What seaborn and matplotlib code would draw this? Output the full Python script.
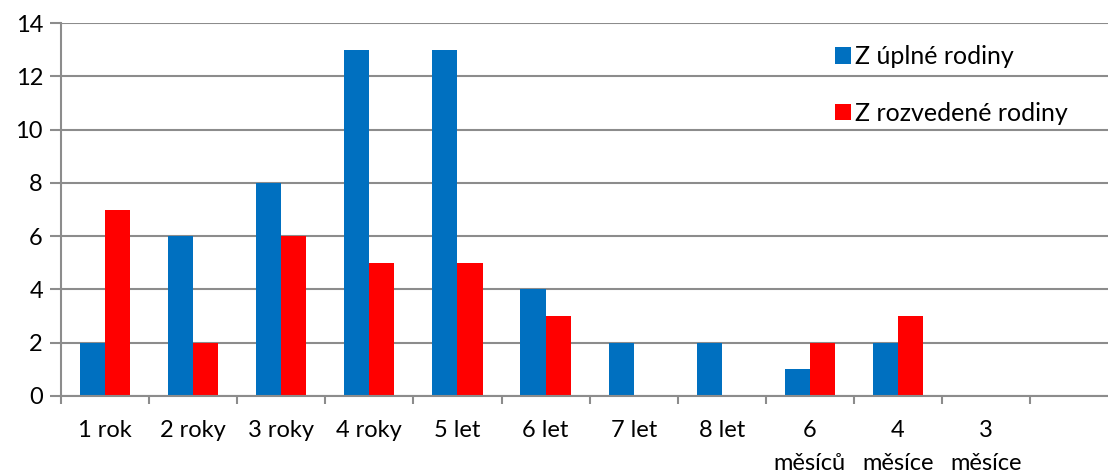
import matplotlib
matplotlib.use("Agg")
import matplotlib.pyplot as plt
import seaborn as sns
import pandas as pd
import numpy as np

# Age categories (last slot intentionally blank)
categories = ["1 rok", "2 roky", "3 roky", "4 roky", "5 let", "6 let", "7 let",
              "8 let", "6\nměsíců", "4\nměsíce", "3\nměsíce", " "]
uplne = [2, 6, 8, 13, 13, 4, 2, 2, 1, 2, 0, 0]
rozvedene = [7, 2, 6, 5, 5, 3, 0, 0, 2, 3, 0, 0]
series_names = ["Z úplné rodiny", "Z rozvedené rodiny"]
colors = ["#0070C0", "#FF0000"]

df = pd.DataFrame({
    "kategorie": categories * 2,
    "pocet": uplne + rozvedene,
    "rodina": [series_names[0]] * len(categories) + [series_names[1]] * len(categories),
})

sns.set_theme(style="white")
plt.rcParams["font.family"] = ["Lato", "DejaVu Sans"]

fig = plt.figure(figsize=(11.08, 4.74), dpi=100)
ax = fig.add_axes([61 / 1108, 1 - 396 / 474, 1 - 61 / 1108, (396 - 23) / 474])

sns.barplot(data=df, x="kategorie", y="pocet", hue="rodina", order=categories,
            hue_order=series_names, palette=colors, width=0.57, linewidth=0,
            saturation=1, ax=ax, legend=True)

# tick marks at category boundaries
ax.set_xticks(np.arange(-0.5, len(categories), 1), minor=True)
ax.tick_params(axis="x", which="minor", length=6, width=1.5, color="#8c8c8c",
               bottom=True)

ax.set_ylim(0, 14)
ax.set_xlim(-0.5, -0.5 + (1108 - 61) / 88.1)
ax.set_yticks(np.arange(0, 15, 2))
ax.yaxis.grid(True, color="#8c8c8c", linewidth=1.5)
ax.set_axisbelow(True)
ax.set_xlabel("")
ax.set_ylabel("")

for s in ["top", "right"]:
    ax.spines[s].set_visible(False)
for s in ["left", "bottom"]:
    ax.spines[s].set_color("#8c8c8c")
    ax.spines[s].set_linewidth(1.5)

ax.tick_params(axis="y", which="major", length=8, width=1.5, color="#8c8c8c",
               labelsize=17, labelcolor="black", pad=5, left=True)
ax.tick_params(axis="x", which="major", length=0, labelsize=17,
               labelcolor="black", pad=17)
for lbl in ax.get_xticklabels():
    lbl.set_linespacing(1.7)
    lbl.set_verticalalignment("top")

leg = ax.legend(loc="upper left", bbox_to_anchor=(0.730, 0.967), frameon=False,
                fontsize=18, handlelength=0.62, handleheight=0.62,
                handletextpad=0.15, labelspacing=1.35, borderaxespad=0)
for t in leg.get_texts():
    t.set_color("black")

fig.savefig("out.png", dpi=100)
